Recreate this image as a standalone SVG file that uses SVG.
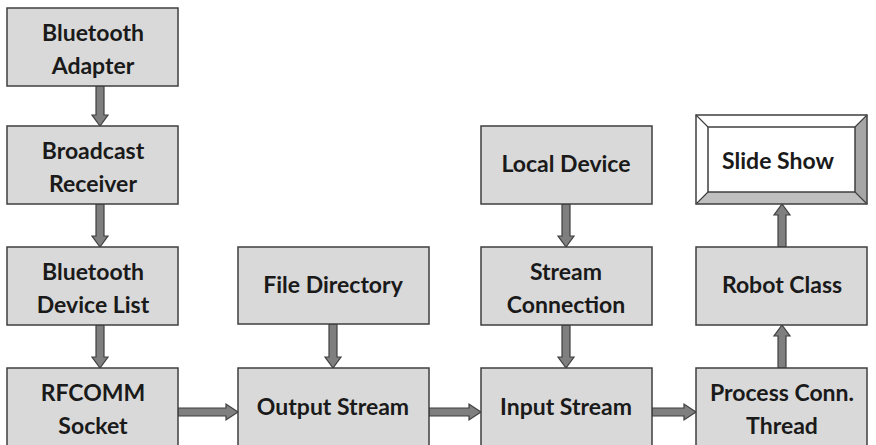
<svg xmlns="http://www.w3.org/2000/svg" width="876" height="445" viewBox="0 0 876 445">
<style>
.box{fill:#d9d9d9;stroke:#3f3f3f;stroke-width:1.5}
.arr{fill:#7f7f7f;stroke:#3f3f3f;stroke-width:1.2;stroke-linejoin:miter}
text{font-family:Lato,"Open Sans","Liberation Sans",sans-serif;font-weight:bold;font-size:23px;fill:#1a1a1a;text-anchor:middle}
</style>
<rect width="876" height="445" fill="#fff"/>
<g id="connectors">
<polygon class="arr" points="96,86 104,86 104,115 108,115 100,126 92,115 96,115"/>
<polygon class="arr" points="96,204 104,204 104,236 108,236 100,247 92,236 96,236"/>
<polygon class="arr" points="96,325 104,325 104,357 108,357 100,368 92,357 96,357"/>
<polygon class="arr" points="329,324 337,324 337,357 341,357 333,368 325,357 329,357"/>
<polygon class="arr" points="562,204 570,204 570,236 574,236 566,247 558,236 562,236"/>
<polygon class="arr" points="562,325 570,325 570,357 574,357 566,368 558,357 562,357"/>
<polygon class="arr" points="778,368 786,368 786,336 790,336 782,325 774,336 778,336"/>
<polygon class="arr" points="778,247 786,247 786,215 790,215 782,204 774,215 778,215"/>
<polygon class="arr" points="178,408 226,408 226,404 238,412 226,420 226,416 178,416"/>
<polygon class="arr" points="429,408 469,408 469,404 481,412 469,420 469,416 429,416"/>
<polygon class="arr" points="652,408 684,408 684,404 696,412 684,420 684,416 652,416"/>
</g>
<g id="bluetooth-adapter"><rect class="box" x="7" y="8" width="171" height="78"/><text x="93" y="41">Bluetooth</text><text x="93" y="74">Adapter</text></g>
<g id="broadcast-receiver"><rect class="box" x="7" y="126" width="171" height="78"/><text x="93" y="159">Broadcast</text><text x="93" y="192">Receiver</text></g>
<g id="bluetooth-device-list"><rect class="box" x="7" y="247" width="171" height="78"/><text x="93" y="280">Bluetooth</text><text x="93" y="313">Device List</text></g>
<g id="rfcomm-socket"><rect class="box" x="7" y="368" width="171" height="80"/><text x="93" y="401">RFCOMM</text><text x="93" y="434">Socket</text></g>
<g id="file-directory"><rect class="box" x="238" y="247" width="191" height="77"/><text x="333" y="293">File Directory</text></g>
<g id="output-stream"><rect class="box" x="238" y="368" width="191" height="80"/><text x="333" y="415">Output Stream</text></g>
<g id="local-device"><rect class="box" x="481" y="126" width="171" height="78"/><text x="566" y="172">Local Device</text></g>
<g id="stream-connection"><rect class="box" x="481" y="247" width="171" height="78"/><text x="566" y="280">Stream</text><text x="566" y="313">Connection</text></g>
<g id="input-stream"><rect class="box" x="481" y="368" width="171" height="80"/><text x="566" y="415">Input Stream</text></g>
<g id="process-conn-thread"><rect class="box" x="696" y="368" width="171" height="80"/><text x="782" y="401">Process Conn.</text><text x="782" y="434">Thread</text></g>
<g id="robot-class"><rect class="box" x="696" y="247" width="171" height="78"/><text x="782" y="293">Robot Class</text></g>
<g id="slide-show">
<rect x="696" y="115" width="171" height="89" fill="#fff"/>
<polygon points="867,115 867,204 855,192 855,127" fill="#a6a6a6"/>
<polygon points="696,204 867,204 855,192 708,192" fill="#bfbfbf"/>
<rect x="696" y="115" width="171" height="89" fill="none" stroke="#3f3f3f" stroke-width="1.5"/>
<rect x="708" y="127" width="147" height="65" fill="none" stroke="#3f3f3f" stroke-width="1.5"/>
<path d="M696,115L708,127M867,115L855,127M696,204L708,192M867,204L855,192" stroke="#3f3f3f" stroke-width="1.2"/>
<text x="778" y="169">Slide Show</text>
</g>
</svg>
